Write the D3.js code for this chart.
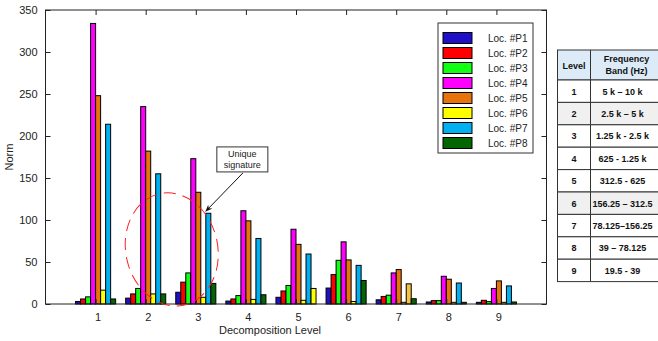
<!DOCTYPE html>
<html>
<head>
<meta charset="utf-8">
<script src="https://cdn.jsdelivr.net/npm/d3@7"></script>
<style>
  body { margin: 0; background: #fff; }
  svg { font-family: "Liberation Sans", Arial, sans-serif; }
</style>
</head>
<body>
<div id="chart"></div>
<script>
const levels = [1, 2, 3, 4, 5, 6, 7, 8, 9];
const series = ['Loc. #P1', 'Loc. #P2', 'Loc. #P3', 'Loc. #P4', 'Loc. #P5', 'Loc. #P6', 'Loc. #P7', 'Loc. #P8'];
const colors = ['#1f10c8', '#ff0000', '#11ff11', '#ff00ff', '#e8720c', '#ffff00', '#00b0f0', '#036603'];

// values per series, one per level
const p1 = [3, 7, 14, 3.5, 8, 19, 5, 2.4, 2];
const p2 = [6, 12, 26, 6, 15.5, 35, 9, 4, 4.4];
const p3 = [8.5, 18.5, 37, 10, 22, 52, 10.5, 4, 2.8];
const p4 = [334, 235, 173, 111, 89, 74, 37, 33, 18.5];
const p5 = [248, 182, 133, 99, 71, 52.5, 41, 29.5, 27.5];
const p6 = [16.5, 12, 8, 5.5, 4.4, 3, 2, 2, 2];
const p7 = [214, 155, 108, 78, 59.5, 46, 24, 25, 21.5];
const p8 = [6, 12, 24.5, 11, 18.5, 28, 6.3, 2, 2.4];
const values = [p1, p2, p3, p4, p5, p6, p7, p8];

// a few bars are drawn in a different colour in the original
const colorOverrides = [
  { level: 5, series: 7, color: '#ffff00' },
  { level: 7, series: 6, color: '#f5c242' }
];

const yTicks = [0, 50, 100, 150, 200, 250, 300, 350];

const tableHeader = ['Level', 'Frequency|Band (Hz)'];
const tableRows = [
  ['1', '5 k \u2013 10 k'],
  ['2', '2.5 k \u2013 5 k'],
  ['3', '1.25 k -  2.5 k'],
  ['4', '625 - 1.25 k'],
  ['5', '312.5 - 625'],
  ['6', '156.25 \u2013 312.5'],
  ['7', '78.125\u2013156.25'],
  ['8', '39 \u2013 78.125'],
  ['9', '19.5 - 39']
];
const greyRows = [2, 6];

const W = 658, H = 341;
const svg = d3.select('#chart').append('svg')
  .attr('width', W)
  .attr('height', H);

const mLeft = 45.5, mRight = 546.5, mTop = 10, mBottom = 304;

const x = d3.scaleLinear().domain([0, 10]).range([mLeft, mRight]);
const y = d3.scaleLinear().domain([0, 350]).range([mBottom, mTop]);

const groupW = (x(1) - x(0)) * 0.8;
const xSub = d3.scaleBand().domain(d3.range(series.length)).range([-groupW / 2, groupW / 2]);

const bars = [];
values.forEach((vals, s) => {
  vals.forEach((v, i) => {
    const ov = colorOverrides.find((o) => o.level === levels[i] && o.series === s);
    bars.push({ level: levels[i], s: s, v: v, color: ov ? ov.color : colors[s] });
  });
});

const g = svg.append('g');

g.selectAll('rect.bar')
  .data(bars)
  .enter()
  .append('rect')
  .attr('class', 'bar')
  .attr('x', (d) => x(d.level) + xSub(d.s))
  .attr('width', xSub.bandwidth())
  .attr('y', (d) => y(d.v))
  .attr('height', (d) => y(0) - y(d.v))
  .attr('fill', (d) => d.color)
  .attr('stroke', '#000')
  .attr('stroke-width', 1);

// axes (MATLAB style, ticks inward, box)
const axB = g.append('g').attr('transform', `translate(0,${mBottom})`)
  .call(d3.axisBottom(x).tickValues(levels).tickSize(-5).tickPadding(9));
const axT = g.append('g').attr('transform', `translate(0,${mTop})`)
  .call(d3.axisTop(x).tickValues(levels).tickSize(-5).tickFormat(''));
const axL = g.append('g').attr('transform', `translate(${mLeft},0)`)
  .call(d3.axisLeft(y).tickValues(yTicks).tickSize(-5).tickPadding(8));
const axR = g.append('g').attr('transform', `translate(${mRight},0)`)
  .call(d3.axisRight(y).tickValues(yTicks).tickSize(-5).tickFormat(''));

[axB, axT, axL, axR].forEach((a) => {
  a.select('.domain').remove();
  a.selectAll('line').attr('stroke', '#222');
  a.selectAll('text').attr('font-size', 11).attr('fill', '#222')
    .attr('font-family', '"Liberation Sans", Arial, sans-serif');
});
// tick labels sit a little right of their ticks in the original
axB.selectAll('text').attr('dx', 2);

g.append('rect')
  .attr('x', mLeft).attr('y', mTop)
  .attr('width', mRight - mLeft).attr('height', mBottom - mTop)
  .attr('fill', 'none').attr('stroke', '#222').attr('stroke-width', 1);

svg.append('text')
  .attr('x', 270)
  .attr('y', 334)
  .attr('text-anchor', 'middle')
  .attr('font-size', 11)
  .attr('fill', '#222')
  .text('Decomposition Level');

svg.append('text')
  .attr('transform', `translate(13,${(mTop + mBottom) / 2}) rotate(-90)`)
  .attr('text-anchor', 'middle')
  .attr('font-size', 11)
  .attr('fill', '#222')
  .text('Norm');

// annotation: dashed ellipse
svg.append('ellipse')
  .attr('cx', x(2.52))
  .attr('cy', y(65))
  .attr('rx', 46)
  .attr('ry', 57)
  .attr('transform', `rotate(-12,${x(2.52)},${y(65)})`)
  .attr('fill', 'none')
  .attr('stroke', '#ff2020')
  .attr('stroke-width', 1)
  .attr('stroke-dasharray', '12,7');

// annotation: arrow + box
svg.append('defs').append('marker')
  .attr('id', 'arr')
  .attr('viewBox', '0 0 10 10')
  .attr('refX', 9).attr('refY', 5)
  .attr('markerWidth', 7).attr('markerHeight', 7)
  .attr('orient', 'auto')
  .append('path').attr('d', 'M0,1 L10,5 L0,9 L3,5 Z').attr('fill', '#111');

svg.append('line')
  .attr('x1', x(3.94)).attr('y1', y(156))
  .attr('x2', x(3.2)).attr('y2', y(110.5))
  .attr('stroke', '#111').attr('stroke-width', 1)
  .attr('marker-end', 'url(#arr)');

const bx = x(3.42), by = y(187);
svg.append('rect')
  .attr('x', bx).attr('y', by)
  .attr('width', 51).attr('height', 25)
  .attr('fill', '#fff').attr('stroke', '#333');
svg.append('text')
  .attr('x', bx + 25.5).attr('y', by + 10)
  .attr('text-anchor', 'middle').attr('font-size', 9).attr('fill', '#222')
  .text('Unique');
svg.append('text')
  .attr('x', bx + 25.5).attr('y', by + 21)
  .attr('text-anchor', 'middle').attr('font-size', 9).attr('fill', '#222')
  .text('signature');

// legend
const lg = svg.append('g').attr('transform', 'translate(438,23)');
lg.append('rect')
  .attr('width', 95).attr('height', 130)
  .attr('fill', '#fff').attr('stroke', '#333');
const li = lg.selectAll('g.item')
  .data(series)
  .enter()
  .append('g')
  .attr('transform', (d, i) => `translate(5,${9.5 + i * 15})`);
li.append('rect')
  .attr('width', 29).attr('height', 11)
  .attr('fill', (d, i) => colors[i])
  .attr('stroke', '#000');
li.append('text')
  .attr('x', 45).attr('y', 9.5)
  .attr('font-size', 10).attr('fill', '#222')
  .text((d) => d);

// frequency band table
const tx = 557.5, ty = 50, c1 = 33, c2 = 75, hh = 30, rh = 22.4;
const tg = svg.append('g').attr('font-weight', 'bold').attr('fill', '#111');
tg.append('rect')
  .attr('x', tx).attr('y', ty).attr('width', c1 + c2).attr('height', hh)
  .attr('fill', '#dcebf7').attr('stroke', '#333');
tg.append('line')
  .attr('x1', tx + c1).attr('x2', tx + c1).attr('y1', ty).attr('y2', ty + hh)
  .attr('stroke', '#333');
tg.append('text')
  .attr('x', tx + c1 / 2).attr('y', ty + hh / 2 + 3.5)
  .attr('text-anchor', 'middle').attr('font-size', 9)
  .text(tableHeader[0]);
tableHeader[1].split('|').forEach((t, k) => {
  tg.append('text')
    .attr('x', tx + c1 + 36).attr('y', ty + 12 + k * 12)
    .attr('text-anchor', 'middle').attr('font-size', 9)
    .text(t);
});
const rows = tg.selectAll('g.row')
  .data(tableRows)
  .enter()
  .append('g')
  .attr('transform', (d, i) => `translate(${tx},${ty + hh + i * rh})`);
rows.append('rect')
  .attr('width', c1 + c2).attr('height', rh)
  .attr('fill', (d, i) => greyRows.includes(i + 1) ? '#f0f0f0' : '#fff')
  .attr('stroke', '#333');
rows.append('line')
  .attr('x1', c1).attr('x2', c1).attr('y1', 0).attr('y2', rh)
  .attr('stroke', '#333');
rows.append('text')
  .attr('x', c1 / 2).attr('y', rh / 2 + 3.5)
  .attr('text-anchor', 'middle').attr('font-size', 9)
  .text((d) => d[0]);
rows.append('text')
  .attr('x', c1 + 32).attr('y', rh / 2 + 3.5)
  .attr('text-anchor', 'middle').attr('font-size', 9)
  .text((d) => d[1]);
</script>
</body>
</html>
